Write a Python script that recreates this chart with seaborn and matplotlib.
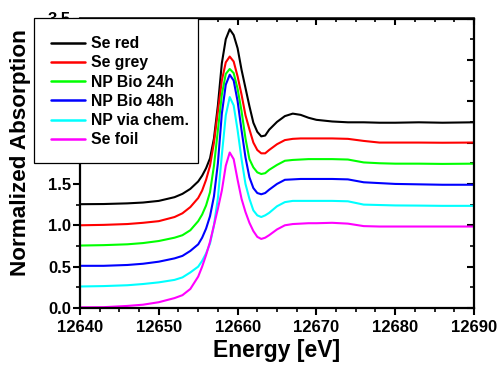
import numpy as np
import pandas as pd
import matplotlib
matplotlib.use("Agg")
import matplotlib.pyplot as plt
from matplotlib.ticker import MultipleLocator
from matplotlib.patches import Rectangle
import seaborn as sns

energy = [12640, 12643, 12646, 12648, 12650, 12652, 12653, 12654, 12655, 12655.5,
          12656, 12656.5, 12657, 12657.5, 12658, 12658.5, 12659, 12659.5, 12660, 12660.5,
          12661, 12661.5, 12662, 12662.5, 12663, 12663.5, 12664, 12665, 12666, 12667,
          12668, 12669, 12670, 12672, 12674, 12676, 12678, 12680, 12683, 12686, 12690]

se_red = [1.255, 1.257, 1.265, 1.275, 1.295, 1.34, 1.38, 1.44, 1.53, 1.60,
          1.69, 1.81, 2.05, 2.45, 2.96, 3.25, 3.37, 3.30, 3.14, 2.88,
          2.66, 2.44, 2.24, 2.13, 2.075, 2.085, 2.155, 2.25, 2.32, 2.35,
          2.335, 2.30, 2.275, 2.255, 2.245, 2.245, 2.24, 2.24, 2.245, 2.24, 2.245]
se_grey = [1.0, 1.005, 1.015, 1.03, 1.05, 1.10, 1.145, 1.22, 1.33, 1.42,
           1.55, 1.72, 2.00, 2.38, 2.75, 2.97, 3.04, 2.98, 2.80, 2.58,
           2.33, 2.16, 2.00, 1.91, 1.87, 1.87, 1.91, 1.98, 2.03, 2.045,
           2.05, 2.05, 2.05, 2.05, 2.045, 2.02, 2.0, 2.0, 2.0, 1.998, 2.0]
np_bio_24h = [0.755, 0.76, 0.77, 0.785, 0.81, 0.85, 0.88, 0.94, 1.05, 1.13,
              1.24, 1.40, 1.72, 2.15, 2.58, 2.83, 2.89, 2.84, 2.65, 2.38,
              2.05, 1.80, 1.70, 1.64, 1.62, 1.63, 1.67, 1.73, 1.78, 1.79,
              1.795, 1.80, 1.80, 1.80, 1.795, 1.76, 1.75, 1.745, 1.745, 1.742, 1.745]
np_bio_48h = [0.51, 0.51, 0.52, 0.535, 0.56, 0.60, 0.63, 0.69, 0.77, 0.85,
              0.96, 1.11, 1.35, 1.75, 2.35, 2.70, 2.82, 2.75, 2.50, 2.15,
              1.82, 1.58, 1.45, 1.39, 1.375, 1.39, 1.43, 1.50, 1.55, 1.555,
              1.56, 1.56, 1.56, 1.56, 1.555, 1.52, 1.51, 1.50, 1.495, 1.49, 1.49]
np_chem = [0.26, 0.265, 0.275, 0.29, 0.31, 0.34, 0.37, 0.43, 0.50, 0.57,
           0.66, 0.78, 1.00, 1.33, 1.85, 2.33, 2.55, 2.45, 2.15, 1.80,
           1.50, 1.32, 1.18, 1.12, 1.10, 1.12, 1.15, 1.23, 1.28, 1.295,
           1.295, 1.295, 1.295, 1.295, 1.29, 1.25, 1.245, 1.24, 1.238, 1.235, 1.235]
se_foil = [0.008, 0.01, 0.025, 0.04, 0.07, 0.12, 0.155, 0.23, 0.38, 0.50,
           0.64, 0.80, 1.00, 1.20, 1.42, 1.72, 1.88, 1.80, 1.55, 1.32,
           1.16, 1.03, 0.93, 0.86, 0.835, 0.85, 0.88, 0.95, 1.00, 1.015,
           1.02, 1.025, 1.025, 1.03, 1.02, 0.99, 0.985, 0.985, 0.985, 0.985, 0.985]

series_names = ["Se red", "Se grey", "NP Bio 24h", "NP Bio 48h", "NP via chem.", "Se foil"]
series_values = [se_red, se_grey, np_bio_24h, np_bio_48h, np_chem, se_foil]
colors = ["#000000", "#ff0000", "#00ff00", "#0000ff", "#00ffff", "#ff00ff"]

x_ticks = [12640, 12650, 12660, 12670, 12680, 12690]
y_ticks = [0.0, 0.5, 1.0, 1.5, 2.0, 2.5, 3.0, 3.5]

rows = []
for name, vals in zip(series_names, series_values):
    for e, v in zip(energy, vals):
        rows.append({"Energy": e, "Absorption": v, "Sample": name})
df = pd.DataFrame(rows)

sns.set_theme(style="ticks")
plt.rcParams["font.family"] = ["Liberation Sans", "DejaVu Sans"]
plt.rcParams["font.weight"] = "bold"
plt.rcParams["text.color"] = "black"
plt.rcParams["axes.labelcolor"] = "black"
plt.rcParams["xtick.color"] = "black"
plt.rcParams["ytick.color"] = "black"

W, H = 502, 365
fig = plt.figure(figsize=(W / 100, H / 100), dpi=100)
ax = fig.add_axes([80 / W, 57 / H, 394 / W, 289.5 / H])

sns.lineplot(data=df, x="Energy", y="Absorption", hue="Sample",
             hue_order=series_names, palette=colors, linewidth=1.5,
             ax=ax, legend=True, sort=False)

ax.set_xlim(12640, 12690)
ax.set_ylim(0, 3.5)
ax.set_xticks(x_ticks)
ax.set_yticks(y_ticks)
ax.set_xticklabels([str(t) for t in x_ticks])
ax.set_yticklabels([f"{t:.1f}" for t in y_ticks])
ax.xaxis.set_minor_locator(MultipleLocator(2.5))
ax.yaxis.set_minor_locator(MultipleLocator(0.25))

for s in ax.spines.values():
    s.set_linewidth(1.6)
    s.set_color("black")

ax.tick_params(axis="both", which="major", direction="out", length=5, width=1.5,
               labelsize=12, colors="black", labelcolor="black")
ax.tick_params(axis="x", which="major", pad=3.5)
ax.tick_params(axis="y", which="major", pad=1.5)
ax.tick_params(axis="both", which="minor", direction="out", length=3, width=1.2,
               colors="black")
for lab in ax.get_xticklabels() + ax.get_yticklabels():
    lab.set_fontweight("bold")
    lab.set_color("black")

# inward ticks on top and right
axt = ax.secondary_xaxis("top")
axt.set_xticks(x_ticks)
axt.set_xticklabels([])
axt.xaxis.set_minor_locator(MultipleLocator(2.5))
axt.tick_params(which="major", direction="in", length=5, width=1.5, colors="black")
axt.tick_params(which="minor", direction="in", length=3, width=1.2, colors="black")
axr = ax.secondary_yaxis("right")
axr.set_yticks(y_ticks)
axr.set_yticklabels([])
axr.yaxis.set_minor_locator(MultipleLocator(0.25))
axr.tick_params(which="major", direction="in", length=5, width=1.5, colors="black")
axr.tick_params(which="minor", direction="in", length=3, width=1.2, colors="black")

ax.set_xlabel("Energy [eV]", fontsize=16.5, fontweight="bold", color="black")
ax.set_ylabel("Normalized Absorption", fontsize=16.2, fontweight="bold", color="black")
ax.xaxis.set_label_coords(0.5, (308 - 339) / 289.5)
ax.yaxis.set_label_coords((31.4 - 80) / 394, 0.537)

handles, labels = ax.get_legend_handles_labels()
ax.get_legend().remove()

# legend frame (white box overlapping the axes, as in the original)
frame = Rectangle((34 / W, 1 - 162.7 / H), 164 / W, 144.4 / H,
                  transform=fig.transFigure, facecolor="white",
                  edgecolor="black", linewidth=0.9, zorder=5)
fig.patches.append(frame)

leg = fig.legend(handles, labels, loc="upper left",
                 bbox_to_anchor=(50.7 / W, 1 - 36.2 / H), bbox_transform=fig.transFigure,
                 frameon=False, prop={"weight": "bold", "size": 11.3},
                 handlelength=2.2, borderpad=0, labelspacing=0.27,
                 handletextpad=0.35, borderaxespad=0, labelcolor="black")
for h in leg.get_lines():
    h.set_linewidth(1.8)
leg.set_zorder(6)

fig.savefig("out.png", dpi=100)
